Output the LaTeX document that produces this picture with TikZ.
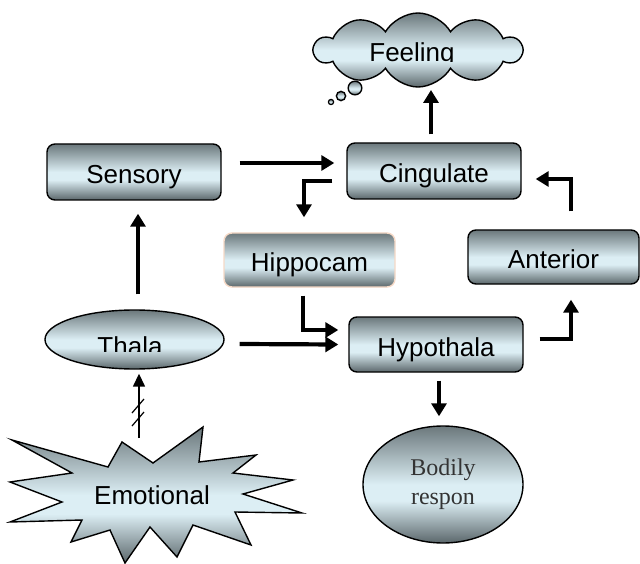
\documentclass[tikz,border=0pt]{standalone}
\usepackage{fontspec}
\setmainfont{Liberation Sans}
\newfontfamily\bodyserif{Liberation Serif}
\usetikzlibrary{arrows.meta,shapes.geometric,shapes.symbols,calc}
\definecolor{dkt}{HTML}{6B787C}
\definecolor{dkb}{HTML}{5B676B}
\definecolor{ltc}{HTML}{DCEEF4}
\definecolor{peach}{HTML}{F6D9C6}
\definecolor{txtgray}{HTML}{333333}
\pgfdeclareverticalshading{gshade}{100bp}{color(0bp)=(dkb); color(25bp)=(dkb); color(43bp)=(ltc); color(50bp)=(ltc); color(75bp)=(dkt); color(100bp)=(dkt)}
\tikzset{
  gbox/.style={draw=black, line width=1.4pt, rounded corners=8pt, shading=gshade,
    minimum width=174pt, minimum height=56pt, inner sep=0pt,
    text height=23pt, text depth=0pt, font=\fontsize{26}{30}\selectfont},
  gell/.style={draw=black, line width=1.4pt, ellipse, shading=gshade, inner sep=0pt},
  bigarr/.style={line width=4.2pt, -{Triangle[length=13pt,width=15pt]}},
  thinarr/.style={line width=1.5pt, -{Triangle[length=13pt,width=12pt]}},
  lbl/.style={font=\fontsize{26}{30}\selectfont, inner sep=0pt, anchor=base}
}
\begin{document}
\begin{tikzpicture}[x=1pt,y=-1pt]
\useasboundingbox (0,0) rectangle (640,564);

% boxes
\node[gbox] (sensory) at (134,172) {Sensory};
\node[gbox] (cing) at (434,171) {Cingulate};
\node[gbox, draw=peach, minimum width=171pt, minimum height=54pt] (hippo) at (309.5,260) {Hippocam};
\node[gbox, minimum width=171pt, minimum height=54pt] (ant) at (553.5,257) {Anterior};
\node[gbox, minimum height=55pt] (hypo) at (436,344.5) {Hypothala};

% thalamus ellipse with clipped label
\node[gell, minimum width=179pt, minimum height=59pt] (thala) at (134.5,339.5) {};
\begin{scope}
  \clip (40,300) rectangle (230,351);
  \node[lbl] (thalatxt) at (130,355) {Thala};
\end{scope}

% bodily response
\node[gell, minimum width=160pt, minimum height=117pt, align=center,
  font=\bodyserif\fontsize{24}{29}\selectfont, text=txtgray] (bodily) at (443,484.5) {Bodily\\respon};

% feeling cloud
\node[cloud, cloud puffs=10, cloud puff arc=120, cloud ignores aspect, draw=black, line width=1.4pt,
  shading=gshade, minimum width=207pt, minimum height=74pt, inner sep=0pt] (feel) at (418,50) {};
\begin{scope}
  \clip (300,0) rectangle (540,61.5);
  \node[lbl] (feeltxt) at (412,62) {Feeling};
\end{scope}
\draw[line width=1.4pt, shading=gshade] (355,88) circle[radius=6.8pt];
\draw[line width=1.4pt, shading=gshade] (341,96) circle[radius=4.6pt];
\draw[line width=1.2pt, shading=gshade] (331,102) circle[radius=2.6pt];

% emotional star
\draw[line width=1.4pt, shading=gshade, line join=miter]
  (12,440) -- (108,467) -- (122,442) -- (153,463) -- (203,427) -- (199,462)
  -- (256,455) -- (233,473) -- (293,480) -- (243,494) -- (302,513) -- (235,512)
  -- (251,545) -- (193,525) -- (177,557) -- (150,527) -- (125,563) -- (110,530)
  -- (71,542) -- (82,520) -- (10,522) -- (62,502) -- (10,482) -- (72,473) -- cycle;
\node[lbl] (emotxt) at (152,504) {Emotional};
\coordinate (emotop) at (139,438);

% arrows
\draw[bigarr] ($(sensory.east)+(18,-9)$) -- ($(cing.west)+(-12,-8)$);
\draw[bigarr] ($(cing.west)+(-14,10)$) -| ($(hippo.north)+(-5.5,-15)$);
\draw[bigarr] ($(cing.north)+(-3,-8)$) -- ($(feel.center)+(13,40)$);
\draw[bigarr] ($(ant.north)+(17.5,-18)$) |- ($(cing.east)+(14,8)$);
\draw[bigarr] ($(thala.north)+(3.5,-15)$) -- ($(sensory.south)+(4,13)$);
\draw[bigarr] ($(hippo.south)+(-6.5,8)$) |- ($(hypo.west)+(-10,-14.5)$);
\draw[bigarr] ($(thala.east)+(15,4.5)$) -- ($(hypo.west)+(-10,0)$);
\draw[bigarr] ($(hypo.east)+(16,-5.5)$) -| ($(ant.south)+(17.5,15)$);
\draw[bigarr] ($(hypo.south)+(3,8)$) -- ($(bodily.north)+(-4,-9)$);
\draw[thinarr] (emotop) -- ($(thala.south)+(4.5,4)$);
\draw[line width=1.2pt] (132,413) -- (144,399);
\draw[line width=1.2pt] (132,426) -- (144,412);
\end{tikzpicture}
\end{document}
